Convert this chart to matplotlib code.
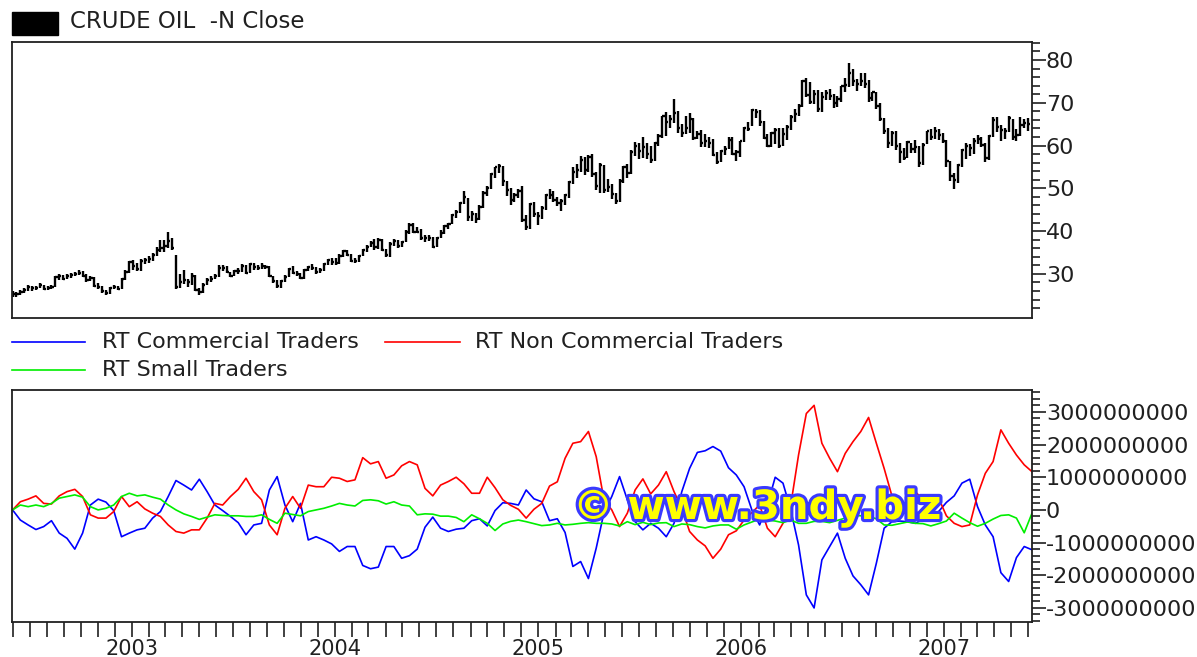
import numpy as np
import pandas as pd
import matplotlib
matplotlib.use("Agg")
import matplotlib.pyplot as plt
import matplotlib.dates as mdates
from matplotlib.ticker import FixedLocator, FuncFormatter, NullFormatter
from matplotlib.lines import Line2D
from matplotlib.patches import Rectangle
import matplotlib.patheffects as pe

# ---------------- data ----------------
# weekly crude oil bars (Fridays), starting 2002-05-31
price_start = "2002-05-31"
close = [
    25.3, 25.2, 25.8, 26.2, 26.9, 26.6, 26.8, 27.3, 26.4, 26.8, 27.0, 29.2, 29.5, 28.9, 29.5, 29.8,
    30.0, 30.3, 29.6, 28.5, 29.0, 27.2, 27.0, 25.9, 25.5, 26.7, 26.9, 26.5, 28.7, 30.5, 32.7,
    31.9, 31.2, 33.0, 33.2, 33.5, 34.5, 35.7, 36.0, 36.6, 37.8, 36.1, 26.9, 28.2, 28.6, 28.1, 29.6,
    26.3, 25.8, 27.5, 28.6, 28.9, 29.6, 31.3, 31.5, 30.4, 29.6, 30.7, 30.7, 31.9, 30.3, 32.3, 31.6,
    31.5, 31.9, 31.6, 29.4, 28.3, 27.2, 28.3, 29.3, 31.1, 30.3, 30.0, 29.1, 30.9, 31.6, 31.5, 30.4,
    30.9, 32.3, 33.3, 32.8,
    32.5, 34.3, 35.3, 34.4, 33.1, 33.0, 34.1, 35.5, 36.2, 37.3, 36.2, 37.9, 35.7, 34.4, 37.1, 37.7,
    36.5, 37.4, 39.9, 41.4, 39.9, 39.9, 38.5, 38.5, 38.5, 36.2, 38.4, 39.5, 41.2, 41.7, 43.8, 44.4,
    46.6, 47.9, 43.2, 43.9, 42.8, 45.6, 48.9, 50.1, 53.3, 54.9, 55.2, 51.8, 49.6, 47.3, 48.4, 49.4,
    42.5, 41.0, 46.3, 44.0, 43.5,
    45.4, 48.4, 48.5, 47.2, 46.5, 47.1, 48.4, 51.5, 53.8, 54.4, 56.7, 54.2, 57.3, 53.3, 50.5, 55.4,
    49.7, 50.4, 48.7, 47.0, 51.8, 55.0, 53.6, 58.5, 59.8, 58.8, 59.6, 58.1, 56.7, 60.6, 62.3, 66.9,
    65.4, 66.1, 67.6, 64.1, 63.0, 64.2, 66.2, 61.8, 62.6, 60.6, 61.1, 60.6, 57.8, 56.1, 58.7, 59.3,
    61.4, 58.1, 58.4, 61.0,
    64.2, 63.9, 68.4, 67.8, 65.4, 61.8, 59.9, 62.9, 63.7, 60.0, 62.7, 64.3, 66.6, 67.4, 69.3, 75.2,
    71.9, 70.2, 72.0, 68.5, 71.4, 72.3, 71.6, 70.0, 70.9, 73.9, 74.1, 77.0, 75.0, 74.5, 75.0, 74.4,
    71.1, 72.5, 69.2, 66.3, 63.3, 60.6, 62.9, 59.8, 58.6, 57.0, 60.8, 59.1, 59.6, 56.0, 60.2, 63.4,
    62.0, 63.4, 62.4, 61.1,
    56.3, 53.0, 52.0, 55.4, 59.0, 59.9, 59.4, 61.1, 61.6, 60.1, 57.1, 62.3, 65.9, 64.3, 63.6, 63.4,
    66.5, 61.9, 62.4, 64.9, 65.2, 65.1,
]
high = [
    25.9, 25.8, 26.2, 26.7, 27.3, 27.2, 27.2, 27.8, 27.5, 27.1, 27.5, 29.5, 30.0, 29.8, 29.9, 30.3,
    30.4, 30.9, 30.6, 29.9, 29.4, 29.2, 27.8, 27.2, 26.3, 26.9, 27.3, 27.2, 29.0, 30.9, 33.0,
    33.2, 32.5, 33.4, 33.8, 34.3, 35.0, 36.3, 37.9, 38.0, 39.9, 38.4, 34.5, 30.0, 31.0, 28.9, 30.3,
    29.8, 26.6, 27.8, 29.0, 29.6, 30.0, 32.0, 32.2, 31.8, 30.5, 31.0, 31.5, 32.3, 32.0, 32.6, 32.6,
    32.0, 32.5, 32.2, 31.8, 29.6, 28.6, 28.6, 29.8, 31.5, 31.8, 30.6, 30.3, 31.2, 31.9, 32.4, 31.7,
    31.3, 32.6, 33.5, 33.7,
    33.7, 34.6, 35.6, 35.7, 34.7, 33.8, 34.4, 35.8, 36.8, 37.6, 38.2, 38.3, 38.1, 35.9, 37.4, 38.2,
    38.0, 37.7, 40.2, 41.8, 41.8, 41.0, 40.5, 39.0, 39.2, 38.6, 38.7, 40.2, 41.5, 42.0, 44.0, 45.0,
    46.9, 49.4, 47.7, 44.8, 44.2, 46.0, 49.3, 50.5, 53.6, 55.0, 55.7, 55.2, 51.7, 50.0, 48.9, 49.8,
    50.5, 43.8, 46.6, 46.8, 44.4,
    45.8, 48.7, 49.8, 49.3, 48.0, 47.6, 48.7, 51.8, 55.1, 55.6, 57.6, 57.4, 57.7, 58.0, 53.8, 56.0,
    55.5, 52.1, 50.9, 48.9, 52.1, 55.3, 55.7, 58.9, 60.9, 60.5, 62.1, 60.5, 59.8, 60.9, 62.6, 67.0,
    67.8, 67.2, 70.8, 68.0, 65.1, 66.9, 67.6, 66.4, 63.5, 63.6, 62.6, 61.9, 61.6, 58.6, 59.0, 60.0,
    62.1, 62.0, 59.0, 61.1,
    64.3, 65.4, 68.6, 68.5, 68.2, 65.7, 62.6, 63.2, 64.0, 64.0, 64.0, 64.9, 67.1, 68.6, 69.6, 75.4,
    75.7, 74.9, 73.0, 72.9, 72.6, 73.0, 73.2, 72.0, 71.5, 74.0, 75.8, 79.3, 78.0, 75.6, 77.0, 77.0,
    75.3, 72.6, 72.4, 70.0, 66.5, 64.0, 63.5, 63.3, 60.5, 59.5, 61.0, 60.7, 61.4, 60.0, 60.5, 63.5,
    63.9, 64.3, 63.9, 62.9,
    61.3, 56.5, 53.5, 55.8, 59.1, 60.5, 60.3, 61.8, 62.4, 62.1, 60.7, 62.5, 66.7, 66.7, 64.9, 64.2,
    66.9, 66.3, 63.8, 66.6, 66.3, 66.4,
]
low = [
    24.7, 24.6, 25.0, 25.5, 26.0, 26.1, 26.3, 26.6, 26.2, 26.2, 26.4, 27.0, 28.6, 28.6, 28.7, 29.1,
    29.4, 29.7, 29.3, 28.1, 28.3, 27.0, 26.5, 25.6, 25.0, 25.4, 26.4, 26.2, 26.4, 28.5, 30.3,
    31.0, 30.7, 30.8, 32.4, 32.6, 33.0, 34.2, 35.2, 35.1, 36.0, 35.5, 26.5, 26.7, 27.6, 27.0, 27.4,
    26.0, 25.0, 25.6, 27.3, 28.0, 28.7, 29.3, 30.6, 30.2, 29.2, 29.4, 30.0, 30.5, 30.0, 30.1, 31.0,
    31.0, 31.2, 31.2, 29.2, 27.9, 26.6, 26.8, 28.1, 29.3, 29.9, 29.4, 28.8, 28.9, 30.6, 30.9, 30.0,
    30.1, 30.8, 32.2, 32.1,
    32.2, 32.4, 33.9, 34.1, 32.8, 32.5, 32.9, 34.1, 35.1, 36.2, 35.7, 35.9, 35.3, 33.9, 34.0, 36.5,
    36.0, 36.4, 37.4, 39.4, 39.6, 39.5, 38.0, 37.5, 37.8, 36.0, 36.2, 38.3, 39.4, 40.6, 41.6, 43.1,
    44.3, 46.3, 42.4, 42.4, 41.9, 42.7, 45.4, 48.3, 49.8, 52.5, 53.7, 50.6, 48.2, 46.2, 46.8, 47.7,
    42.2, 40.3, 40.5, 43.2, 41.5,
    42.8, 44.9, 47.5, 46.9, 45.9, 44.8, 46.0, 47.7, 51.0, 52.5, 53.9, 53.1, 53.8, 52.6, 49.6, 49.0,
    48.8, 49.2, 47.6, 46.3, 46.8, 51.2, 52.4, 53.4, 57.5, 56.8, 57.2, 56.8, 56.0, 56.5, 59.9, 61.8,
    62.2, 64.2, 65.3, 63.0, 62.1, 62.8, 62.9, 61.2, 61.6, 59.6, 59.6, 59.5, 57.6, 55.7, 56.2, 57.8,
    59.1, 57.7, 56.3, 57.4,
    60.8, 63.3, 64.5, 66.4, 64.6, 61.6, 59.7, 59.6, 60.4, 59.5, 59.8, 61.4, 63.6, 65.5, 66.8, 69.1,
    71.3, 69.8, 69.6, 67.8, 67.8, 70.7, 70.6, 68.8, 68.9, 70.1, 72.5, 73.6, 73.9, 72.7, 74.0, 73.5,
    70.1, 70.5, 68.6, 65.8, 62.8, 59.5, 59.9, 58.9, 56.0, 56.6, 57.2, 58.2, 58.3, 55.0, 55.4, 60.4,
    61.2, 61.6, 61.4, 60.7,
    55.1, 51.8, 49.9, 51.2, 54.9, 56.9, 57.6, 58.0, 60.3, 59.6, 56.1, 56.7, 62.0, 63.2, 61.1, 61.5,
    63.2, 61.3, 61.0, 62.2, 64.0, 63.4,
]

# bi-weekly trader positions (billions), starting 2002-05-31
cot_start = "2002-05-31"
commercial = [
    0, -0.31, -0.46, -0.6, -0.51, -0.33, -0.71, -0.87, -1.2, -0.71, 0.15, 0.33, 0.24, -0.02, -0.82,
    -0.71, -0.61, -0.56, -0.25, -0.05, 0.41, 0.9, 0.76, 0.61, 0.94, 0.56, 0.15,
    -0.02, -0.2, -0.39, -0.76, -0.46, -0.41, 0.61, 1.02, 0.15, -0.36, 0.2, -0.92, -0.82, -0.92,
    -1.04, -1.27, -1.12, -1.12, -1.7, -1.8, -1.75, -1.12, -1.12, -1.48, -1.4, -1.2,
    -0.53, -0.22, -0.56, -0.66, -0.59, -0.56, -0.33, -0.27, -0.49, -0.02, 0.22, 0.2, 0.15, 0.61,
    0.34, 0.25, -0.33, -0.27, -0.69, -1.73, -1.58, -2.1, -1.17, -0.08, 0.41, 1.02, 0.31,
    -0.36, -0.61, -0.41, -0.56, -0.82, -0.41, 0.56, 1.27, 1.76, 1.81, 1.94, 1.8, 1.29, 1.07, 0.71,
    0, -0.46, 0.15, 1.0, 0.82, 0, -1.07, -2.6, -3.0, -1.53, -1.12,
    -0.71, -1.48, -2.02, -2.29, -2.6, -1.63, -0.56, -0.36, -0.34, -0.36, -0.41, -0.29, -0.17,
    -0.05, 0.23, 0.43, 0.82, 0.94, 0.1, -0.46, -0.82, -1.92, -2.19, -1.46, -1.12, -1.22,
]
noncommercial = [
    0, 0.25, 0.33, 0.43, 0.2, 0.18, 0.43, 0.56, 0.63, 0.41, -0.15, -0.25, -0.25, -0.05, 0.41, 0.1,
    0.25, 0.03, -0.1, -0.2, -0.46, -0.66, -0.71, -0.61, -0.61, -0.25, 0.2,
    0.15, 0.41, 0.63, 0.97, 0.56, 0.31, -0.46, -0.76, 0.05, 0.41, 0.05, 0.76, 0.71, 0.71, 1.0,
    0.97, 0.87, 0.92, 1.6, 1.41, 1.48, 0.97, 1.07, 1.35, 1.48, 1.38,
    0.66, 0.43, 0.76, 0.87, 1.0, 0.8, 0.51, 0.51, 1.0, 0.68, 0.31, 0.14, 0.02, -0.25, 0.02, 0.2,
    0.73, 0.86, 1.58, 2.04, 2.09, 2.4, 1.63, 0.31, 0, -0.51, -0.1,
    0.61, 0.95, 0.49, 0.76, 1.17, 0.56, 0.05, -0.66, -0.92, -1.1, -1.48, -1.2, -0.76, -0.64,
    -0.31, -0.08, 0.15, -0.56, -0.82, -0.41, 0.15, 1.68, 2.95, 3.2, 2.04, 1.58,
    1.17, 1.73, 2.09, 2.4, 2.83, 2.04, 1.27, 0.43, 0.1, 0.25, 0.56, 0.31, 0.38, 0.36, -0.18,
    -0.41, -0.51, -0.46, 0.46, 1.12, 1.48, 2.45, 2.04, 1.68, 1.38, 1.17,
]
small = [
    0, 0.15, 0.1, 0.15, 0.1, 0.2, 0.36, 0.41, 0.46, 0.39, 0.1, 0, 0.05, 0.15, 0.41, 0.51, 0.43,
    0.46, 0.39, 0.33, 0.15, 0, -0.12, -0.2, -0.29, -0.22, -0.15,
    -0.17, -0.18, -0.18, -0.2, -0.2, -0.15, -0.29, -0.41, -0.1, -0.14, -0.18, -0.05, 0, 0.05,
    0.12, 0.2, 0.15, 0.12, 0.29, 0.31, 0.28, 0.18, 0.25, 0.15, 0.12, -0.15,
    -0.12, -0.13, -0.19, -0.19, -0.23, -0.36, -0.15, -0.27, -0.41, -0.63, -0.43, -0.35, -0.31,
    -0.36, -0.42, -0.48, -0.46, -0.41, -0.46, -0.44, -0.41, -0.39, -0.41, -0.41, -0.43, -0.49, -0.36,
    -0.45, -0.38, -0.45, -0.4, -0.39, -0.51, -0.43, -0.45, -0.51, -0.55, -0.49, -0.46, -0.46,
    -0.59, -0.46, -0.37, -0.28, -0.31, -0.34, -0.39, -0.31, -0.41, -0.41, -0.35, -0.35, -0.39,
    -0.32, -0.25, -0.16, -0.18, -0.2, -0.27, -0.46, -0.47, -0.42, -0.37, -0.41, -0.42, -0.49,
    -0.42, -0.34, -0.1, -0.25, -0.39, -0.5, -0.41, -0.28, -0.17, -0.15, -0.25, -0.7, -0.1,
]

price_ticks = [30, 40, 50, 60, 70, 80]
cot_ticks = [-3e9, -2e9, -1e9, 0, 1e9, 2e9, 3e9]
year_labels = ["2003", "2004", "2005", "2006", "2007"]
title_text = "CRUDE OIL  -N Close"
legend_names = ["RT Commercial Traders", "RT Non Commercial Traders", "RT Small Traders"]
line_colors = ["#0000ff", "#ff0000", "#00ee00"]
watermark = "\u00a9 www.3ndy.biz"

# ---------------- figure ----------------
plt.rcParams["font.family"] = ["DejaVu Sans"]
W, H = 1197, 657
fig = plt.figure(figsize=(W / 100, H / 100), dpi=100)
fig.patch.set_facecolor("white")

ax1 = fig.add_axes([12 / W, 1 - 318 / H, 1020 / W, 276 / H])
ax2 = fig.add_axes([12 / W, 1 - 622 / H, 1020 / W, 232 / H])

pd_dates = pd.date_range(price_start, periods=len(close), freq="7D")
xp = mdates.date2num(pd_dates.to_pydatetime())
cd = pd.date_range(cot_start, periods=len(commercial), freq="14D")
xc = mdates.date2num(cd.to_pydatetime())

xmin = mdates.date2num(pd.Timestamp("2002-05-30").to_pydatetime())
xmax = mdates.date2num(pd.Timestamp("2007-06-08").to_pydatetime())

# --- price bars ---
ax1.vlines(xp, low, high, color="black", lw=1.7)
ax1.hlines(close, xp, xp + 4.0, color="black", lw=1.7)
ax1.set_xlim(xmin, xmax)
ax1.set_ylim(19.7, 84.2)
ax1.set_xticks([])

# --- trader lines ---
scale = 1e9
ax2.plot(xc, np.array(commercial) * scale, color=line_colors[0], lw=1.2)
ax2.plot(xc, np.array(noncommercial) * scale, color=line_colors[1], lw=1.2)
ax2.plot(xc, np.array(small) * scale, color=line_colors[2], lw=1.2)
ax2.set_xlim(xmin, xmax)
ax2.set_ylim(-3.43e9, 3.67e9)

for ax in (ax1, ax2):
    for sp in ax.spines.values():
        sp.set_linewidth(1.3)
        sp.set_color("#202020")
    ax.yaxis.tick_right()
    ax.tick_params(axis="y", which="major", length=10, width=1.2, pad=0,
                   labelsize=16, colors="#202020", direction="out")
    ax.tick_params(axis="y", which="minor", length=6, width=1.2, direction="out",
                   colors="#202020")
    ax.tick_params(axis="y", left=False, labelleft=False)

ax1.yaxis.set_major_locator(FixedLocator(price_ticks))
ax1.yaxis.set_minor_locator(FixedLocator(np.arange(22, 85, 2)))
ax1.yaxis.set_major_formatter(FuncFormatter(lambda v, p: f"{int(round(v))}"))

ax2.yaxis.set_major_locator(FixedLocator(cot_ticks))
ax2.yaxis.set_minor_locator(FixedLocator(np.arange(-3.4e9, 3.61e9, 2e8)))
ax2.yaxis.set_major_formatter(FuncFormatter(lambda v, p: f"{int(round(v))}".replace("\u2212", "-")))

# x axis: monthly ticks, year labels at January
year_pos = [mdates.date2num(pd.Timestamp(f"{y}-01-01").to_pydatetime()) for y in year_labels]
ax2.xaxis.set_major_locator(FixedLocator(year_pos))
ax2.xaxis.set_major_formatter(FuncFormatter(lambda v, p: mdates.num2date(v).strftime("%Y")))
ax2.xaxis.set_minor_locator(mdates.MonthLocator())
ax2.xaxis.set_minor_formatter(NullFormatter())
ax2.tick_params(axis="x", which="both", length=11, width=1.2, direction="out",
                colors="#202020", labelsize=15, pad=1)

# --- title block ---
fig.patches.append(Rectangle((12 / W, 1 - 35 / H), 46 / W, 23 / H,
                             transform=fig.transFigure, color="black"))
fig.text(70 / W, 1 - 22 / H, title_text, fontsize=16.5, va="center", ha="left", color="#202020")

# --- legend between panels ---
leg_items = [((12, 85), 342, 102), ((385, 460), 342, 475), ((12, 85), 370, 102)]
for name, color, ((x0, x1), yy, xt) in zip(legend_names, line_colors, leg_items):
    fig.add_artist(Line2D([x0 / W, x1 / W], [1 - yy / H, 1 - yy / H],
                          transform=fig.transFigure, color=color, lw=1.2))
    fig.text(xt / W, 1 - yy / H, name, fontsize=16, va="center", ha="left", color="#202020")

# --- watermark ---
fig.text(757 / W, 1 - 508 / H, watermark, fontsize=29, fontweight="bold",
         ha="center", va="center", color="#ffff00", zorder=10,
         path_effects=[pe.withStroke(linewidth=4.5, foreground="#3a3aff")])

fig.savefig("out.png", dpi=100)
